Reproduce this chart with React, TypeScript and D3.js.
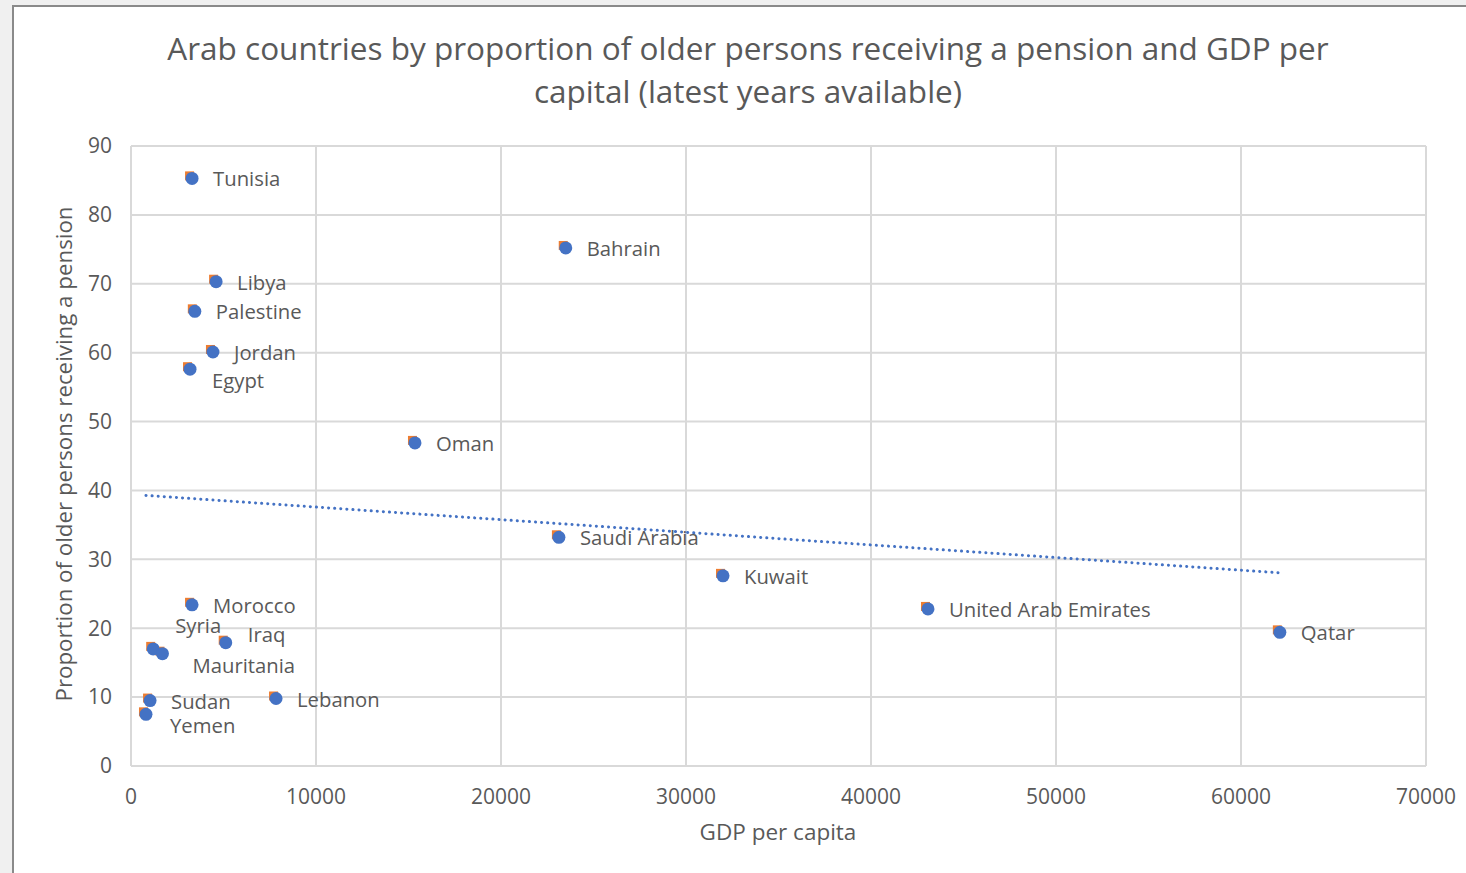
import * as d3 from "d3";
import { useEffect, useRef } from "react";

// values
const countries = [
  "Tunisia", "Bahrain", "Libya", "Palestine", "Jordan", "Egypt", "Oman",
  "Saudi Arabia", "Kuwait", "United Arab Emirates", "Qatar", "Morocco",
  "Syria", "Mauritania", "Iraq", "Sudan", "Yemen", "Lebanon",
];
const gdpPerCapita = [
  3300, 23500, 4600, 3450, 4430, 3190, 15350,
  23130, 32000, 43080, 62100, 3300,
  1200, 1700, 5120, 1030, 810, 7840,
];
const pensionShare = [
  85.3, 75.2, 70.3, 66.0, 60.1, 57.6, 46.9,
  33.2, 27.6, 22.8, 19.4, 23.4,
  17.0, 16.3, 17.9, 9.5, 7.5, 9.8,
];
const xTicks = [0, 10000, 20000, 30000, 40000, 50000, 60000, 70000];
const yTicks = [0, 10, 20, 30, 40, 50, 60, 70, 80, 90];
const titleLines = [
  "Arab countries by proportion of older persons receiving a pension and GDP per",
  "capital (latest years available)",
];

// label nudges where Excel moved a label off the default right-hand spot
const labelNudge: Record<string, [number, number]> = {
  Egypt: [22, 12],
  Syria: [22, -23],
  Mauritania: [30, 12],
  Iraq: [22, -8],
  Yemen: [24, 12],
};

const W = 1466;
const H = 873;
const FONT = "'Open Sans', sans-serif";
const GREY = "#595959";
const BLUE = "#4472c4";
const ORANGE = "#ed7d31";

export default function App() {
  const ref = useRef<SVGSVGElement | null>(null);

  useEffect(() => {
    document.body.style.margin = "0";
    const svg = d3.select(ref.current);
    svg.selectAll("*").remove();
    svg.attr("width", W).attr("height", H);

    // window frame round the chart
    svg.append("rect").attr("width", W).attr("height", H).attr("fill", "#f0f0f0");
    svg.append("rect").attr("x", 13).attr("y", 6).attr("width", W).attr("height", H)
      .attr("fill", "#fff").attr("stroke", "#8a8a8a").attr("stroke-width", 2);

    const x = d3.scaleLinear().domain([0, 70000]).range([131, 1426]);
    const y = d3.scaleLinear().domain([0, 90]).range([766, 146]);

    const g = svg.append("g");

    // grid
    g.selectAll("line.vx").data(xTicks).enter().append("line")
      .attr("x1", (d) => x(d)).attr("x2", (d) => x(d))
      .attr("y1", y(0)).attr("y2", y(90))
      .attr("stroke", "#d9d9d9").attr("stroke-width", 2);
    g.selectAll("line.hy").data(yTicks).enter().append("line")
      .attr("x1", x(0)).attr("x2", x(70000))
      .attr("y1", (d) => y(d)).attr("y2", (d) => y(d))
      .attr("stroke", "#d9d9d9").attr("stroke-width", 2);

    // tick labels
    g.selectAll("text.xt").data(xTicks).enter().append("text")
      .attr("x", (d) => x(d)).attr("y", 804)
      .attr("text-anchor", "middle").attr("font-family", FONT)
      .attr("font-size", 21).attr("fill", GREY).text((d) => d);
    g.selectAll("text.yt").data(yTicks).enter().append("text")
      .attr("x", 112).attr("y", (d) => y(d)).attr("dy", "0.35em")
      .attr("text-anchor", "end").attr("font-family", FONT)
      .attr("font-size", 21).attr("fill", GREY).text((d) => d);

    // axis titles
    svg.append("text").attr("x", 778).attr("y", 840)
      .attr("text-anchor", "middle").attr("font-family", FONT)
      .attr("font-size", 22.5).attr("fill", GREY).text("GDP per capita");
    svg.append("text")
      .attr("transform", `translate(72, ${y(45) - 2}) rotate(-90)`)
      .attr("text-anchor", "middle").attr("font-family", FONT)
      .attr("font-size", 22.3).attr("fill", GREY)
      .text("Proportion of older persons receiving a pension");

    // title
    svg.selectAll("text.title").data(titleLines).enter().append("text")
      .attr("x", 748).attr("y", (_, i) => 60 + i * 43)
      .attr("text-anchor", "middle").attr("font-family", FONT)
      .attr("font-size", 31.5).attr("fill", GREY).text((d) => d);

    // linear trend line
    const pts = countries.map((c, i) => ({ c, gx: gdpPerCapita[i], gy: pensionShare[i] }));
    const mx = d3.mean(pts, (p) => p.gx) as number;
    const my = d3.mean(pts, (p) => p.gy) as number;
    const sxy = d3.sum(pts, (p) => (p.gx - mx) * (p.gy - my));
    const sxx = d3.sum(pts, (p) => (p.gx - mx) ** 2);
    const slope = sxy / sxx;
    const icpt = my - slope * mx;
    const [x0, x1] = d3.extent(gdpPerCapita) as [number, number];
    const trend = d3.line<number>().x((d) => x(d)).y((d) => y(icpt + slope * d));
    g.append("path").attr("d", trend([x0, x1]))
      .attr("fill", "none").attr("stroke", BLUE).attr("stroke-width", 3)
      .attr("stroke-linecap", "round").attr("stroke-dasharray", "0.1 6");

    // markers: orange squares peeking behind the blue circles
    g.selectAll("rect.sq").data(pts).enter().append("rect")
      .attr("x", (p) => x(p.gx) - 7).attr("y", (p) => y(p.gy) - 7)
      .attr("width", 9).attr("height", 9).attr("fill", ORANGE);
    g.selectAll("circle.pt").data(pts).enter().append("circle")
      .attr("cx", (p) => x(p.gx)).attr("cy", (p) => y(p.gy)).attr("r", 6.5)
      .attr("fill", BLUE);

    // data labels
    g.selectAll("text.lbl").data(pts).enter().append("text")
      .attr("x", (p) => x(p.gx) + (labelNudge[p.c] ? labelNudge[p.c][0] : 21))
      .attr("y", (p) => y(p.gy) + (labelNudge[p.c] ? labelNudge[p.c][1] : 1))
      .attr("dy", "0.35em").attr("font-family", FONT)
      .attr("font-size", 20.3).attr("fill", GREY).text((p) => p.c);
  }, []);

  return <svg ref={ref} style={{ display: "block" }}></svg>;
}
